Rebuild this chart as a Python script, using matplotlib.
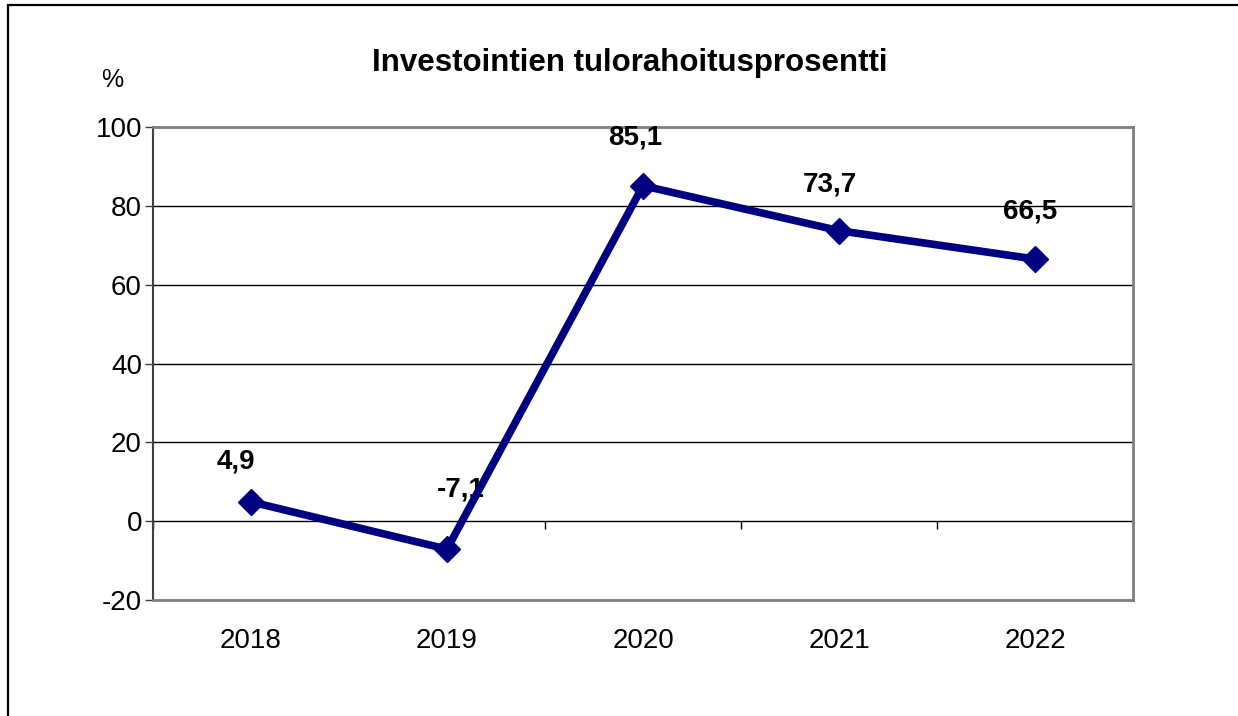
import numpy as np
import matplotlib.pyplot as plt
from matplotlib.patches import Rectangle

plt.rcParams['font.family'] = ['Liberation Sans', 'DejaVu Sans']
plt.rcParams['axes.unicode_minus'] = False

# Data
years = ['2018', '2019', '2020', '2021', '2022']
percent = [4.9, -7.1, 85.1, 73.7, 66.5]
labels = ['4,9', '-7,1', '85,1', '73,7', '66,5']

x = np.arange(len(years)) + 0.5

fig = plt.figure(figsize=(12.38, 7.16), dpi=100)
ax = fig.add_axes([153 / 1238, 1 - 600 / 716, 980 / 1238, 473 / 716])

# outer frame (left + top visible)
fig.patches.append(Rectangle((8 / 1238, -0.1), 1.2, 1.1 - 5 / 716, transform=fig.transFigure,
                             fill=False, edgecolor='black', linewidth=1.6, zorder=0))

ax.plot(x, percent, color='#000080', linewidth=5.5, marker='D', markersize=13,
        zorder=5, clip_on=False)

# data labels
offsets = [(-15, 40), (14, 60), (-8, 48), (-9, 46), (-5, 48)]
for xi, yi, lab, off in zip(x, percent, labels, offsets):
    ax.annotate(lab, (xi, yi), xytext=off, textcoords='offset pixels',
                ha='center', va='center', fontsize=20, fontweight='bold', color='black')

ax.set_xlim(0, 5)
ax.set_ylim(-20, 100)
ax.set_yticks(np.arange(-20, 101, 20))
ax.tick_params(axis='y', labelsize=20, length=6, width=1, color='#404040', pad=2)
ax.set_xticks(x)
ax.set_xticklabels(years)
ax.tick_params(axis='x', labelsize=20, length=0, pad=20)

ax.yaxis.grid(True, color='black', linewidth=1)
ax.set_axisbelow(True)
for side in ['top', 'right', 'bottom']:
    ax.spines[side].set_color('#808080')
    ax.spines[side].set_linewidth(2)
ax.spines['left'].set_color('#404040')
ax.spines['left'].set_linewidth(1.5)

# category axis at y = 0 with boundary ticks
sec = ax.secondary_xaxis(20 / 120)
sec.set_xticks(np.arange(0, 6))
sec.set_xticklabels([])
sec.tick_params(axis='x', direction='out', length=6, width=1, color='black')
sec.spines['bottom'].set_visible(False)
sec.spines['top'].set_visible(False)

fig.text(630 / 1238, 1 - 63 / 716, 'Investointien tulorahoitusprosentti',
         ha='center', va='center', fontsize=22.5, fontweight='bold')
fig.text(112 / 1238, 1 - 80 / 716, '%', ha='center', va='center', fontsize=18)

fig.savefig('out.png', dpi=100)
